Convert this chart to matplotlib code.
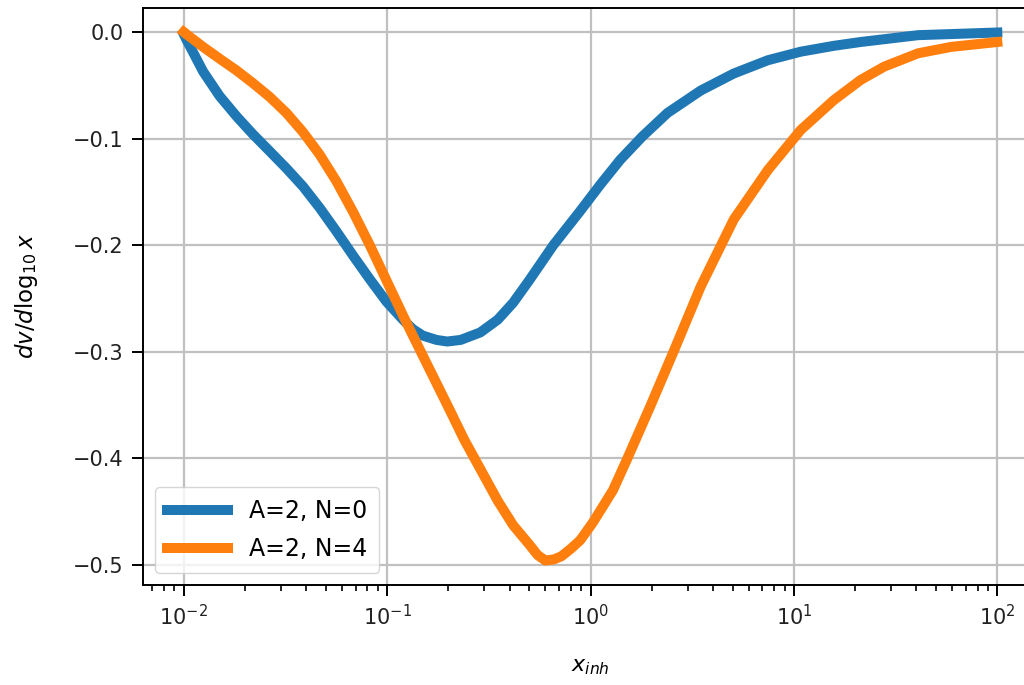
import matplotlib
matplotlib.use("Agg")
import matplotlib.pyplot as plt

# values (x_inh on a log axis)
x_n0 = [0.01, 0.0103, 0.01133, 0.01245, 0.015, 0.01816, 0.0219, 0.0265, 0.032,
        0.0386, 0.0466, 0.0563, 0.0681, 0.0822, 0.0992, 0.1197, 0.134, 0.15,
        0.175, 0.1975, 0.23, 0.287, 0.35, 0.417, 0.5, 0.657, 0.89, 1.12, 1.4,
        1.8, 2.39, 3.48, 5.06, 7.45, 10.8, 15.7, 21.3, 40.8, 100]
y_n0 = [-0.002, -0.007, -0.022, -0.037, -0.060, -0.079, -0.096, -0.112, -0.128,
        -0.145, -0.165, -0.187, -0.210, -0.232, -0.253, -0.270, -0.279, -0.285,
        -0.289, -0.2905, -0.289, -0.282, -0.270, -0.254, -0.233, -0.200, -0.168,
        -0.143, -0.120, -0.098, -0.076, -0.055, -0.039, -0.0265, -0.0185, -0.0130,
        -0.0094, -0.003, -0.0005]

x_n4 = [0.01, 0.0103, 0.01245, 0.015, 0.01816, 0.0219, 0.0265, 0.032, 0.0386,
        0.0466, 0.0563, 0.0681, 0.0822, 0.0992, 0.1197, 0.13, 0.15, 0.1975, 0.24,
        0.287, 0.35, 0.417, 0.5, 0.55, 0.6, 0.66, 0.72, 0.8, 0.89, 1.03, 1.29,
        1.52, 1.97, 2.56, 3.48, 5.06, 7.45, 10.8, 15.7, 21.3, 27.8, 40.8, 59.3, 100]
y_n4 = [0.0, -0.002, -0.014, -0.025, -0.036, -0.048, -0.061, -0.076, -0.094,
        -0.115, -0.140, -0.169, -0.200, -0.233, -0.266, -0.280, -0.304, -0.350,
        -0.383, -0.410, -0.440, -0.463, -0.481, -0.491, -0.496, -0.495, -0.492,
        -0.485, -0.477, -0.460, -0.430, -0.400, -0.351, -0.300, -0.239, -0.176,
        -0.1295, -0.092, -0.064, -0.045, -0.0325, -0.020, -0.014, -0.0094]

labels = ["A=2, N=0", "A=2, N=4"]

fig = plt.figure(figsize=(10.24, 6.85), dpi=100)
# the reference is cropped on the right, so the axes run past the figure edge
ax = fig.add_axes([143 / 1024, 1 - 585 / 685, 895 / 1024, 577 / 685])

ax.plot(x_n0, y_n0, color="#1f77b4", lw=7.2, label=labels[0])
ax.plot(x_n4, y_n4, color="#ff7f0e", lw=7.2, label=labels[1])

ax.set_xscale("log")
ax.set_xlim(10 ** -2.2, 10 ** 2.2)
ax.set_ylim(-0.519, 0.0225)
ax.set_yticks([0.0, -0.1, -0.2, -0.3, -0.4, -0.5])
ax.grid(True, which="major", color="#c0c0c0", lw=1.6)

ax.tick_params(which="major", labelsize=15, length=8, width=1.4, pad=6,
               labelcolor="#222222")
ax.tick_params(which="minor", length=4, width=1.2)
for s in ax.spines.values():
    s.set_linewidth(1.4)

ax.set_xlabel("$x_{inh}$", fontsize=16, labelpad=20)
ax.set_ylabel(r"$dv/d\log_{10}x$", fontsize=16.5, labelpad=24)

ax.legend(loc="lower left", fontsize=17, handlelength=2.6, borderpad=0.5,
          labelspacing=0.6, handletextpad=0.9)

fig.savefig("out.png", dpi=100)
